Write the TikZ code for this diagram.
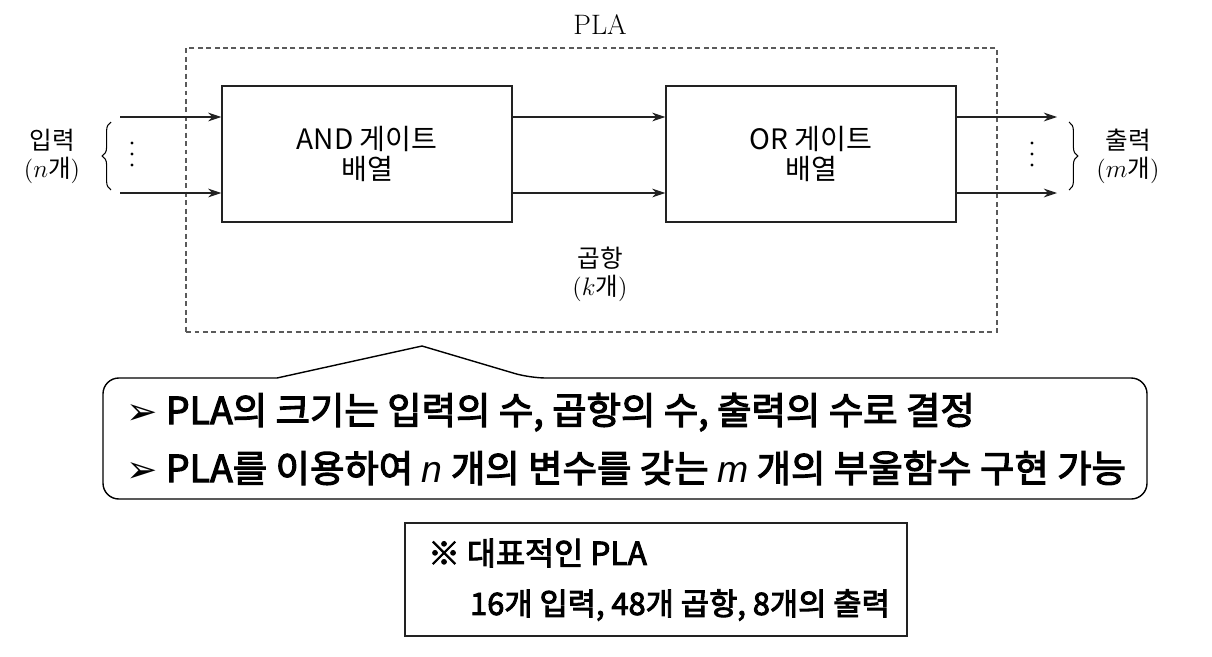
\documentclass[tikz,border=0pt]{standalone}
\usepackage{fontspec}
\usepackage{xcolor}
\usetikzlibrary{arrows.meta,positioning,decorations.pathreplacing}
\newfontfamily\kr{Noto Sans CJK KR}
\newfontfamily\krb[FakeBold=3]{Noto Sans CJK KR}
\newfontfamily\symf{DejaVu Sans}
\newfontfamily\lsans{Liberation Sans}
\definecolor{boxgray}{HTML}{222222}
\definecolor{dashgray}{HTML}{5A5A5A}
\newcommand{\vv}[1]{{\lsans\itshape #1}}

\tikzset{
  arr/.style={-{Stealth[length=7.5pt,width=5pt]}, line width=0.75pt, draw=boxgray},
  blk/.style={draw=boxgray, line width=0.8pt, minimum width=5.8cm, minimum height=2.72cm,
    align=center, font=\kr\fontsize{16}{17}\selectfont},
  lbl/.style={align=center, font=\kr\fontsize{14}{16}\selectfont},
  brc/.style={decorate, decoration={brace, amplitude=5pt}, line width=0.6pt}
}

\begin{document}
\begin{tikzpicture}[x=0.02cm, y=-0.02cm]
\useasboundingbox (0,0) rectangle (1212,656);

% PLA frame
\node (pla) [draw=dashgray, dashed, dash pattern=on 2.8pt off 2pt, line width=1.3pt,
  minimum width=16.22cm, minimum height=5.68cm] at (591.5,190) {};
\node (plalbl) at (600,25) {\fontsize{16}{18}\selectfont PLA};

% arrays
\node (andarr) [blk] at (367,154) {AND 게이트\\배열};
\node (orarr) [blk] at (811,154) {OR 게이트\\배열};

% signal lines
\coordinate (in1) at (120,117);
\coordinate (in2) at (120,193);
\coordinate (out1) at (1057,117);
\coordinate (out2) at (1057,193);
\foreach \n in {1,2} {
  \draw [arr] (in\n) -- (in\n -| andarr.west);
  \draw [arr] (andarr.east |- in\n) -- (orarr.west |- in\n);
  \draw [arr] (orarr.east |- in\n) -- (out\n);
}

% dots and braces
\foreach \y in {143,154,165} {
  \fill (132,\y) circle (0.9pt);
  \fill (1032,\y) circle (0.9pt);
}
\draw [brc] (111,190) -- (111,122);
\draw [brc] (1069,122) -- (1069,190);

% labels
\node (inlbl) [lbl] at (52,156) {입력\\{\rmfamily(}$n${\kr 개}{\rmfamily)}};
\node (outlbl) [lbl] at (1128,156) {출력\\{\rmfamily(}$m${\kr 개}{\rmfamily)}};
\node (termlbl) [lbl] at (600,274) {곱항\\{\rmfamily(}$k${\kr 개}{\rmfamily)}};

% callout
\coordinate (tip) at (422,346);
\draw [line width=0.8pt, rounded corners=9pt]
  (277,378) -- (103,378) -- (103,499) -- (1147,499) -- (1147,378) -- (530,378)
  [sharp corners] -- (tip) -- cycle;
\node (note) [anchor=west, align=left, font=\krb\fontsize{21.3}{33}\selectfont]
  at (120,439) {{\symf ➢} PLA의 크기는 입력의 수, 곱항의 수, 출력의 수로 결정\\
  {\symf ➢} PLA를 이용하여 \vv{n} 개의 변수를 갖는 \vv{m} 개의 부울함수 구현 가능};

% typical PLA
\node (typ) [draw=boxgray, line width=0.8pt, minimum width=10.04cm, minimum height=2.26cm]
  at (656,579.5) {};
\node (typ1) [anchor=west, font=\krb\fontsize{18}{20}\selectfont]
  at (422,553) {※ 대표적인 PLA};
\node (typ2) [anchor=west, font=\krb\fontsize{17.5}{20}\selectfont]
  at (464,605) {16개 입력, 48개 곱항, 8개의 출력};
\end{tikzpicture}
\end{document}
